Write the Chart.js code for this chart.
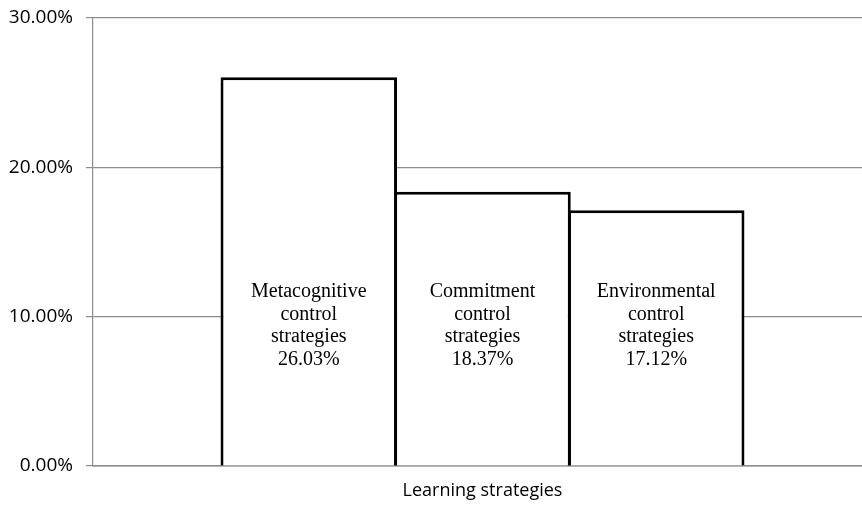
<!DOCTYPE html>
<html>
<head>
<meta charset="utf-8">
<script src="https://cdn.jsdelivr.net/npm/chart.js@4/dist/chart.umd.min.js"></script>
<style>
  html, body { margin: 0; padding: 0; background: #fff; }
  #wrap { width: 862px; height: 506px; }
</style>
</head>
<body>
<div id="wrap"><canvas id="chart" width="862" height="506"></canvas></div>
<script>
var categories = ['Learning strategies'];
var strategyNames = [
  ['Metacognitive', 'control', 'strategies'],
  ['Commitment', 'control', 'strategies'],
  ['Environmental', 'control', 'strategies']
];
var strategyValues = [26.03, 18.37, 17.12];
var yTicks = [0, 10, 20, 30];

// text inside each bar: name lines + value
var barText = {
  id: 'barText',
  afterLayout: function(chart) {
    // the plot runs a little past the right edge of the picture
    var x = chart.scales.x;
    x.right += 10;
    x.width += 10;
    x.configure();
  },
  afterDatasetsDraw: function(chart) {
    var ctx = chart.ctx;
    var midY = chart.scales.y.getPixelForValue(9.4);
    ctx.save();
    ctx.font = '20px "Liberation Serif", "Times New Roman", serif';
    ctx.fillStyle = '#000';
    ctx.textAlign = 'center';
    ctx.textBaseline = 'middle';
    chart.data.datasets.forEach(function(ds, i) {
      var bar = chart.getDatasetMeta(i).data[0];
      var lines = strategyNames[i].concat([strategyValues[i].toFixed(2) + '%']);
      var lh = 22.5;
      var top = midY - (lines.length - 1) * lh / 2;
      lines.forEach(function(t, k) {
        ctx.fillText(t, bar.x, top + k * lh);
      });
    });
    ctx.restore();
  }
};

var datasets = strategyValues.map(function(v, i) {
  return {
    label: strategyNames[i].join(' '),
    data: [v],
    backgroundColor: '#ffffff',
    borderColor: '#000000',
    borderWidth: 3,
    categoryPercentage: 0.669,
    barPercentage: 1.016
  };
});

new Chart(document.getElementById('chart').getContext('2d'), {
  type: 'bar',
  data: { labels: categories, datasets: datasets },
  plugins: [barText],
  options: {
    responsive: false,
    animation: false,
    layout: { padding: { top: 18, right: 0, left: 0, bottom: 0 } },
    plugins: { legend: { display: false }, tooltip: { enabled: false } },
    scales: {
      x: {
        afterFit: function(scale) { scale.height = 40; },
        grid: { display: false },
        border: { display: true, color: '#8c8c8c', width: 1.5 },
        ticks: {
          color: '#000',
          font: { family: '"Open Sans", sans-serif', size: 18 },
          padding: 6
        }
      },
      y: {
        min: 0,
        max: 30,
        afterBuildTicks: function(scale) {
          scale.ticks = yTicks.map(function(v) { return { value: v }; });
        },
        afterFit: function(scale) { scale.width = 93; scale.paddingTop = 0; },
        grid: { color: '#8c8c8c', lineWidth: 1.2, tickLength: 7, drawTicks: true },
        border: { display: true, color: '#8c8c8c', width: 1.2 },
        ticks: {
          color: '#000',
          padding: 13,
          font: { family: '"Open Sans", sans-serif', size: 19 },
          callback: function(v) { return v.toFixed(2) + '%'; }
        }
      }
    }
  }
});
</script>
</body>
</html>
